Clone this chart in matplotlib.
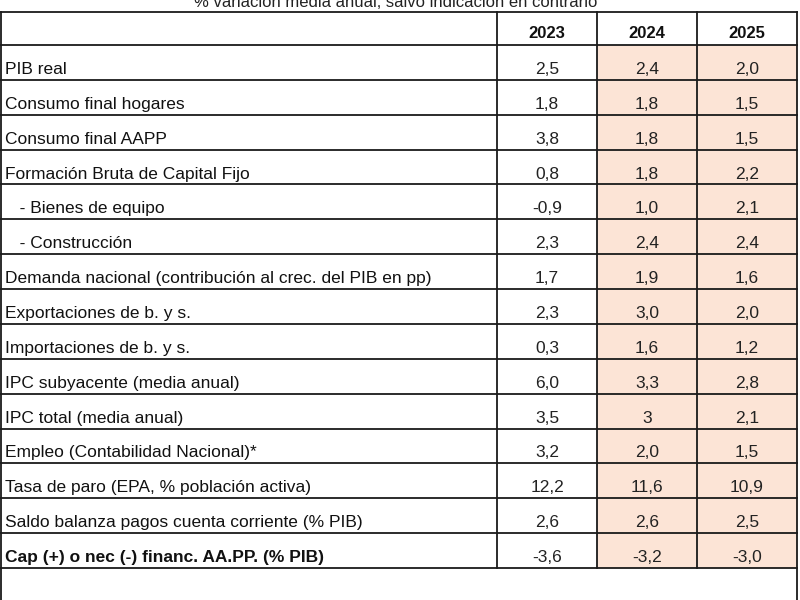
import matplotlib.pyplot as plt
from matplotlib import font_manager
from matplotlib.patches import Rectangle

names = set(f.name for f in font_manager.fontManager.ttflist)
font = 'Liberation Sans Narrow' if 'Liberation Sans Narrow' in names else 'Liberation Sans'
plt.rcParams['font.family'] = [font, 'DejaVu Sans']

title = '% variación media anual, salvo indicación en contrario'
years = ['2023', '2024', '2025']
labels = ['PIB real',
          'Consumo final hogares',
          'Consumo final AAPP',
          'Formación Bruta de Capital Fijo',
          '   - Bienes de equipo',
          '   - Construcción',
          'Demanda nacional (contribución al crec. del PIB en pp)',
          'Exportaciones de b. y s.',
          'Importaciones de b. y s.',
          'IPC subyacente (media anual)',
          'IPC total (media anual)',
          'Empleo (Contabilidad Nacional)*',
          'Tasa de paro (EPA, % población activa)',
          'Saldo balanza pagos cuenta corriente (% PIB)',
          'Cap (+) o nec (-) financ. AA.PP. (% PIB)']
v2023 = ['2,5', '1,8', '3,8', '0,8', '-0,9', '2,3', '1,7', '2,3', '0,3',
         '6,0', '3,5', '3,2', '12,2', '2,6', '-3,6']
v2024 = ['2,4', '1,8', '1,8', '1,8', '1,0', '2,4', '1,9', '3,0', '1,6',
         '3,3', '3', '2,0', '11,6', '2,6', '-3,2']
v2025 = ['2,0', '1,5', '1,5', '2,2', '2,1', '2,4', '1,6', '2,0', '1,2',
         '2,8', '2,1', '1,5', '10,9', '2,5', '-3,0']
bold_rows = [14]
shaded_cols = [2, 3]

# layout in pixels
col_x = [1, 497, 597, 697, 797]
head_top, head_bot = 12, 45
row_h = (568 - 45) / len(labels)
fs = 12.5 if font == 'Liberation Sans' else 13.5
line_c = '#1a1a1a'
shade = '#fce4d6'

fig = plt.figure(figsize=(8, 6), dpi=100)
ax = fig.add_axes([0, 0, 1, 1])
ax.set_xlim(0, 800)
ax.set_ylim(600, 0)
ax.axis('off')

# subtitle sits right at the top edge, as in the source
ax.text(396, 7, title, ha='center', va='baseline', fontsize=12, color='#222')

n = len(labels)
bottom = head_bot + n * row_h

# shading
for c in shaded_cols:
    ax.add_patch(Rectangle((col_x[c], head_bot), col_x[c + 1] - col_x[c], n * row_h,
                           facecolor=shade, edgecolor='none', zorder=0))

# header
for j, y in enumerate(years):
    cx = (col_x[j + 1] + col_x[j + 2]) / 2
    ax.text(cx, (head_top + head_bot) / 2 + 5, y, ha='center', va='center',
            fontsize=fs - 0.5, fontweight='bold', color='#111')

cols = [v2023, v2024, v2025]
for i, lab in enumerate(labels):
    yc = head_bot + (i + 0.5) * row_h + 7
    w = 'bold' if i in bold_rows else 'normal'
    ax.text(col_x[0] + 4, yc, lab, ha='left', va='center', fontsize=fs,
            fontweight=w, color='#111')
    for j, vals in enumerate(cols):
        cx = (col_x[j + 1] + col_x[j + 2]) / 2
        ax.text(cx, yc, vals[i], ha='center', va='center', fontsize=fs, color='#222')

# grid lines
ys = [head_top, head_bot] + [head_bot + (i + 1) * row_h for i in range(n)]
for y in ys:
    ax.plot([col_x[0], col_x[-1]], [y, y], color=line_c, lw=1.3, zorder=3)
for x in col_x[1:-1]:
    ax.plot([x, x], [head_top, bottom], color=line_c, lw=1.3, zorder=3)
for x in [col_x[0], col_x[-1]]:
    ax.plot([x, x], [head_top, 605], color=line_c, lw=1.3, zorder=3)

fig.savefig('out.png', dpi=100)
